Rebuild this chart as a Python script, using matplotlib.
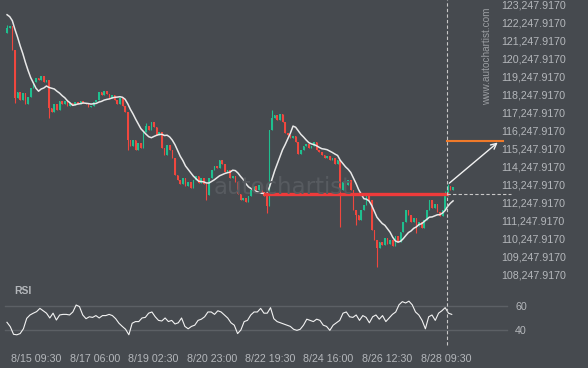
import numpy as np
import pandas as pd
import matplotlib
matplotlib.use("Agg")
import matplotlib.pyplot as plt
import matplotlib.dates as mdates
from matplotlib.lines import Line2D

# price data: 2h candles, close values
prior_closes = [123150, 123000, 122900, 122750, 122800, 122650, 122700, 122550, 122600]  # only feeds the MA
first_open = 121690
closes = [121970, 122080, 120750, 118080, 118410, 117970, 118360, 117750, 118140, 118640,
          118970, 119190, 119080, 119300, 118970, 119080, 117530, 117300, 117750, 117410,
          117920, 117750, 117920, 117640, 117800, 117690, 117860, 117750, 117920, 117800,
          117750, 117580, 117640, 117860, 117970, 118410, 118250, 118470, 118300, 118080,
          118250, 117970, 117750, 118080, 117640, 117300, 115750, 115410, 115750, 115190,
          115580, 115300, 116190, 116530, 116300, 116750, 116470, 116030, 116190, 115300,
          114910, 115470, 115190, 114750, 113800, 113530, 113300, 113640, 113190, 113410,
          113080, 113530, 113750, 113360, 113640, 113300, 112690, 113640, 114080, 114300,
          114190, 114640, 114410, 113970, 114080, 113640, 113750, 113410, 112750, 112410,
          112530, 112300, 112640, 112970, 113190, 112970, 113250, 112860, 112640, 112080,
          116300, 116970, 117140, 116860, 117190, 116750, 116140, 116030, 115860, 115970,
          115640, 114970, 115190, 115410, 115530, 115300, 115410, 115640, 115190, 115080,
          114910, 114750, 114860, 114640, 114750, 114410, 114640, 112970, 113410, 113250,
          113530, 112970, 111860, 111580, 111300, 111860, 112140, 112690, 112410, 110750,
          110190, 109750, 110080, 109920, 110300, 109970, 110190, 109860, 110410, 110080,
          110640, 111190, 111860, 111580, 111190, 111410, 110970, 111190, 110860, 111300,
          111860, 112410, 111970, 112190, 111750, 111530, 111860, 112640, 113190, 112970,
          113140]
wick_lows = {3: 117800, 16: 116970, 46: 115190, 76: 112410, 99: 111690,
             127: 110920, 133: 111000, 141: 108690, 156: 110600}
wick_highs = {0: 122140, 101: 117410, 53: 116700, 88: 113250, 167: 112900, 168: 113300}

rsi = [46.4, 42.8, 36.4, 36, 37, 41, 49.7, 52.5, 54, 55.3, 58, 56, 54, 50, 54, 48.3, 52.5,
       53, 53, 52.5, 55, 60.8, 59.5, 52.5, 49.4, 51, 50.5, 52, 50, 52, 52, 53, 52, 49.4,
       45.6, 43, 40.6, 36, 45.6, 47, 47, 50, 50.5, 54, 55, 51, 48, 47.5, 50, 47, 48, 45,
       46, 50, 43, 41, 43, 44, 48, 49, 51, 55, 55, 53, 56, 55, 52.5, 50,
       46, 44, 37, 40, 47, 48, 52.5, 55, 55, 58, 54, 54, 58.6, 49.4, 47, 46, 45, 44, 43,
       40.6, 39.7, 40.6, 44, 49, 48, 47, 49, 48, 44, 43, 39.7, 44, 46, 48, 54, 55, 51,
       50.5, 52.5, 48, 52, 50.5, 46, 51, 52.5, 49, 52, 47, 50, 53, 55, 61, 63.6, 62.5,
       64, 61, 55, 52.5, 48, 41, 51, 52.5, 48, 54, 56, 58.6, 54, 53]

tick_labels = ["8/15 09:30", "8/17 06:00", "8/19 02:30", "8/20 23:00",
               "8/22 19:30", "8/24 16:00", "8/26 12:30", "8/28 09:30"]
price_ticks = [108247.917 + 1000 * k for k in range(16)]
support_level = 112747.917
target_level = 115709.0

times = pd.date_range("2025-08-14 11:00", periods=len(closes), freq="2h")
rsi_times = pd.date_range("2025-08-14 10:54", "2025-08-28 14:00", periods=len(rsi))
tick_times = pd.to_datetime(["2025/" + s for s in tick_labels], format="%Y/%m/%d %H:%M")

bg = "#464a4f"
txt = "#b4b7bb"
green = "#1fbf8f"
red = "#f0473e"

opens = [first_open] + closes[:-1]
highs = [max(o, c) for o, c in zip(opens, closes)]
lows = [min(o, c) for o, c in zip(opens, closes)]
for k, v in wick_lows.items():
    lows[k] = v
for k, v in wick_highs.items():
    highs[k] = max(highs[k], v)
ma = pd.Series(prior_closes + closes).rolling(10, min_periods=1).mean().iloc[len(prior_closes):]

fig = plt.figure(figsize=(5.88, 3.68), dpi=100, facecolor=bg)
W, H = 588, 368
ax = fig.add_axes([0, 1 - 285 / H, 497 / W, 285 / H], facecolor=bg)
ax2 = fig.add_axes([0, 1 - 342 / H, 497 / W, 55 / H], facecolor=bg)

xl = (mdates.date2num(pd.Timestamp("2025-08-14 05:36")), mdates.date2num(pd.Timestamp("2025-08-30 00:30")))

# watermark
fig.text(283 / W, 1 - 187 / H, "autochartist", fontsize=16.5, color="#575b60",
         ha="center", va="center", family="DejaVu Sans", zorder=0)
fig.text(487 / W, 1 - 56 / H, "www.autochartist.com", rotation=90, fontsize=7.2,
         color="#9a9da1", ha="center", va="center", family="Liberation Sans")

# candles
t = mdates.date2num(times)
cols = [green if c >= o else red for o, c in zip(opens, closes)]
ax.vlines(t, lows, highs, colors=cols, linewidth=0.8, zorder=2)
body_b = [min(o, c) for o, c in zip(opens, closes)]
body_h = [max(abs(c - o), 40) for o, c in zip(opens, closes)]
ax.bar(t, body_h, bottom=body_b, width=2 / 24 * 0.62, color=cols, linewidth=0, zorder=2)
ax.plot(t, ma, color="#e8e8e8", linewidth=1.1, zorder=3)

# support line, target and arrow
t_start = mdates.date2num(pd.Timestamp("2025-08-22 16:00"))
t_now = mdates.date2num(pd.Timestamp("2025-08-28 10:30"))
t_end = mdates.date2num(pd.Timestamp("2025-08-30 04:50"))
t_head = mdates.date2num(pd.Timestamp("2025-08-30 02:40"))
ax.plot([t_start, t_now], [support_level, support_level], color="#ee3b3b", linewidth=2.4, zorder=4)
ax.plot([t_now, t_end + 0.25], [support_level, support_level], color="#c8c8c8",
        linewidth=0.8, linestyle=(0, (3, 2)), clip_on=False, zorder=4)
ax.plot([t_now, t_end], [target_level, target_level], color="#f07a2a", linewidth=1.5,
        clip_on=False, zorder=4)
ax.annotate("", xy=(t_head, target_level), xytext=(t_now, 113248),
            arrowprops=dict(arrowstyle="->", color="#f2f2f2", lw=1.0, mutation_scale=10),
            annotation_clip=False, zorder=5)

ax.set_xlim(*xl)
ax.set_ylim(107692, 123525)
ax.yaxis.tick_right()
ax.set_yticks(price_ticks)
ax.set_yticklabels(["{:,.4f}".format(p) for p in price_ticks])
ax.set_xticks([])
ax.tick_params(axis="y", length=0, pad=3, labelsize=7.7, labelcolor=txt)
for lab in ax.get_yticklabels():
    lab.set_family("Liberation Sans")

# RSI panel
rt = mdates.date2num(rsi_times)
ax2.axhline(60, xmin=0.01, xmax=1.02, color="#5c6065", linewidth=1, clip_on=False)
ax2.axhline(40, xmin=0.01, xmax=1.02, color="#5c6065", linewidth=1, clip_on=False)
ax2.plot(rt, rsi, color="#f2f2f2", linewidth=0.8)
ax2.set_xlim(*xl)
ax2.set_ylim(30, 75.8)
ax2.yaxis.tick_right()
ax2.set_yticks([40, 60])
ax2.set_xticks(mdates.date2num(tick_times))
ax2.set_xticklabels(tick_labels)
ax2.tick_params(axis="y", length=0, pad=13, labelsize=7.7, labelcolor=txt)
ax2.tick_params(axis="x", length=0, pad=9, labelsize=7.7, labelcolor=txt)
for lab in ax2.get_yticklabels() + ax2.get_xticklabels():
    lab.set_family("Liberation Sans")
fig.text(14 / W, 1 - 291 / H, "RSI", fontsize=7.5, fontweight="bold", color=txt,
         ha="left", va="center", family="Liberation Sans")

for a in (ax, ax2):
    for s in a.spines.values():
        s.set_visible(False)

# dashed vertical marker through both panels
xpix = ax.transData.transform((t_now, 0))[0]
fig.add_artist(Line2D([xpix / W, xpix / W], [1 - 345 / H, 1], transform=fig.transFigure,
                      color="#c8c8c8", linewidth=0.8, linestyle=(0, (3, 2))))

fig.savefig("out.png", dpi=100, facecolor=bg)
